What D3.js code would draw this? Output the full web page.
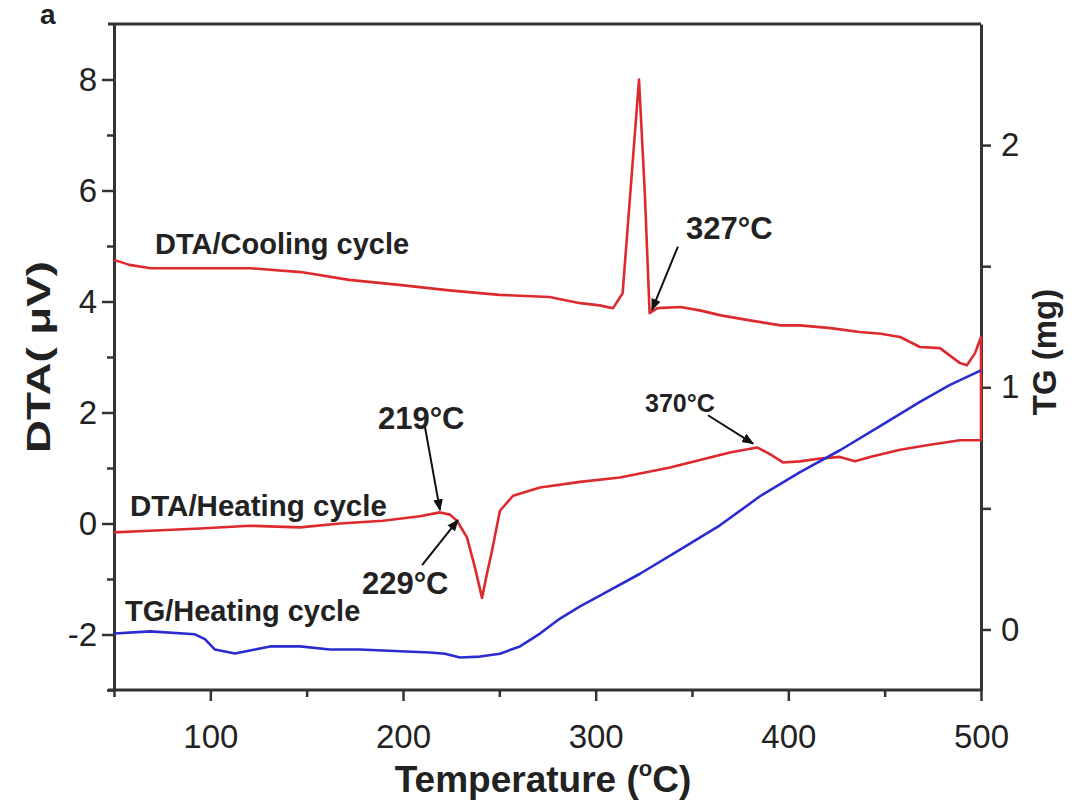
<!DOCTYPE html>
<html><head><meta charset="utf-8">
<script src="https://cdn.jsdelivr.net/npm/d3@7"></script>
<style>
html,body{margin:0;padding:0;background:#fff;}
svg{display:block;font-family:"Liberation Sans",Arial,sans-serif;}
</style></head>
<body>
<svg id="chart" width="1076" height="807"></svg>
<script>
// ---- data ----
const tempHeat = [50,68.7,94.6,120.6,146.5,167.3,189.6,208.8,219.2,224.4,228,233.2,237.4,241,243.6,246.2,250.3,257.1,271.1,291.9,312.6,338.6,369.7,383.7,390.5,397.2,406.1,416.4,426.8,434.6,442.4,458,473.5,489.1,500];
const dtaHeat  = [-0.16,-0.13,-0.09,-0.04,-0.07,0.0,0.05,0.13,0.2,0.16,0.05,-0.25,-0.8,-1.34,-0.9,-0.49,0.23,0.5,0.65,0.75,0.83,1.01,1.28,1.37,1.25,1.1,1.12,1.17,1.2,1.12,1.2,1.33,1.42,1.5,1.5];
const tempCool = [500,496.9,492.7,489.1,478.7,468.3,458,448,437,422,406,396,380,365,354,344,332,328,325.5,322.5,318,314,309,302,292,276,250,224,198,172,147,121,95,69,58,50];
const dtaCool  = [3.36,3.07,2.85,2.89,3.16,3.18,3.36,3.42,3.45,3.52,3.57,3.57,3.66,3.75,3.84,3.9,3.88,3.79,5.96,8.0,5.96,4.15,3.88,3.93,3.97,4.08,4.12,4.2,4.3,4.39,4.53,4.6,4.6,4.6,4.66,4.75];
const tempTG   = [50,68.7,92,97.2,102.4,112.8,123.2,131,146.5,162.1,177.7,198.4,214,221.8,229.6,240,250.3,260.7,271.1,281.5,291.9,302.2,323,343.8,364.5,385.3,406.1,426.8,447.6,468.3,483.9,500];
const tgValues = [-0.017,-0.008,-0.02,-0.04,-0.083,-0.099,-0.083,-0.07,-0.07,-0.083,-0.083,-0.09,-0.095,-0.1,-0.116,-0.112,-0.1,-0.07,-0.017,0.045,0.095,0.14,0.23,0.33,0.43,0.55,0.65,0.74,0.84,0.94,1.01,1.07];

const xTickLabels = [100,200,300,400,500];
const xMinorTicks = [50,150,250,350,450];
const dtaTickLabels = [-2,0,2,4,6,8];
const dtaMinorTicks = [-3,-1,1,3,5,7];
const tgTickLabels = [0,1,2];
const tgMinorTicks = [0.5,1.5];

const annotTexts = ["DTA/Cooling cycle","327°C","DTA/Heating cycle","219°C","229°C","370°C","TG/Heating cycle"];
const annotT     = [71.3,346.9,58.3,187,178.7,325.6,55.7];
const annotV     = [5.05,5.32,0.33,1.90,-1.07,2.17,-1.56];
const annotSize  = [29,31,29.5,31,31,25,29];
const arrowFromT = [342.7,211.4,209.9,358.3];
const arrowFromV = [4.99,1.74,-0.75,1.95];
const arrowToT   = [329.2,219.2,228.5,381.7];
const arrowToV   = [3.85,0.24,0.06,1.44];

// ---- layout ----
const L=114, R=981, T=24, B=690;
const svg = d3.select("#chart");
const x = d3.scaleLinear().domain([50,500]).range([L,R]);
const y = d3.scaleLinear().domain([-3,9]).range([B,T]);
const y2 = d3.scaleLinear().domain([-0.25,2.5]).range([B,T]);

const axisColor="#333", textColor="#222";
const fmt = d => String(d);

// frame
svg.append("line").attr("x1",108).attr("x2",R).attr("y1",T).attr("y2",T).attr("stroke",axisColor).attr("stroke-width",3);

function styleAxis(g){
  g.select(".domain").attr("stroke",axisColor).attr("stroke-width",3);
  g.selectAll(".tick line").attr("stroke",axisColor).attr("stroke-width",2.5);
  g.selectAll(".tick text").attr("fill",textColor).attr("font-size",33).attr("font-family","'Liberation Sans',Arial,sans-serif");
}

// bottom axis
const gx = svg.append("g").attr("transform",`translate(0,${B})`);
gx.call(d3.axisBottom(x).tickValues(xMinorTicks).tickSize(7).tickFormat("").tickSizeOuter(0));
gx.call(g=>g.select(".domain").attr("d",`M${L-6},0H${R}`));
const gx2 = svg.append("g").attr("transform",`translate(0,${B})`);
gx2.call(d3.axisBottom(x).tickValues(xTickLabels).tickSize(11).tickPadding(24).tickFormat(fmt).tickSizeOuter(0));
gx2.select(".domain").remove();
styleAxis(gx); styleAxis(gx2);

// left axis
const gy = svg.append("g").attr("transform",`translate(${L},0)`);
gy.call(d3.axisLeft(y).tickValues(dtaMinorTicks).tickSize(7).tickFormat("").tickSizeOuter(0));
const gy2 = svg.append("g").attr("transform",`translate(${L},0)`);
gy2.call(d3.axisLeft(y).tickValues(dtaTickLabels).tickSize(12).tickPadding(5).tickFormat(fmt).tickSizeOuter(0));
gy2.select(".domain").remove();
styleAxis(gy); styleAxis(gy2);

// right axis
const gr = svg.append("g").attr("transform",`translate(${R},0)`);
gr.call(d3.axisRight(y2).tickValues(tgMinorTicks).tickSize(10).tickFormat("").tickSizeOuter(0));
const gr2 = svg.append("g").attr("transform",`translate(${R},0)`);
gr2.call(d3.axisRight(y2).tickValues(tgTickLabels).tickSize(10).tickPadding(10).tickFormat(fmt).tickSizeOuter(0));
gr2.select(".domain").remove();
styleAxis(gr); styleAxis(gr2);

// axis titles
svg.append("text").attr("transform",`translate(50,357) rotate(-90)`).attr("text-anchor","middle")
  .attr("font-weight","bold").attr("font-size",33).attr("fill",textColor)
  .attr("textLength",192).attr("lengthAdjust","spacingAndGlyphs").text("DTA( μV)");
svg.append("text").attr("transform",`translate(1056,352) rotate(-90)`).attr("text-anchor","middle")
  .attr("font-weight","bold").attr("font-size",33).attr("fill",textColor).text("TG (mg)");
const xt = svg.append("text").attr("x",543).attr("y",792).attr("text-anchor","middle")
  .attr("font-weight","bold").attr("font-size",37).attr("fill",textColor);
xt.append("tspan").text("Temperature (");
xt.append("tspan").attr("font-size",22).attr("dy",-16).text("o");
xt.append("tspan").attr("dy",16).text("C)");

// panel letter
svg.append("text").attr("x",40).attr("y",24).attr("font-weight","bold").attr("font-size",28).attr("fill",textColor).text("a");

// curves
const dtaPts = tempHeat.map((t,i)=>[t,dtaHeat[i]]).concat(tempCool.map((t,i)=>[t,dtaCool[i]]));
const line = d3.line().x(d=>x(d[0])).y(d=>y(d[1]));
svg.append("path").attr("d",line(dtaPts)).attr("fill","none").attr("stroke","#dd2a2e").attr("stroke-width",2.6).attr("stroke-linejoin","round");
const tgPts = tempTG.map((t,i)=>[t,tgValues[i]]);
const line2 = d3.line().x(d=>x(d[0])).y(d=>y2(d[1]));
svg.append("path").attr("d",line2(tgPts)).attr("fill","none").attr("stroke","#2b2bd0").attr("stroke-width",2.6).attr("stroke-linejoin","round");

// annotations
annotTexts.forEach((s,i)=>{
  svg.append("text").attr("x",x(annotT[i])).attr("y",y(annotV[i])).attr("dy","0.36em")
    .attr("font-weight","bold").attr("font-size",annotSize[i])
    .attr("fill",textColor).text(s);
});
svg.append("defs").append("marker").attr("id","ah").attr("viewBox","0 0 10 10").attr("refX",9).attr("refY",5)
  .attr("markerWidth",6).attr("markerHeight",6).attr("orient","auto")
  .append("path").attr("d","M0,1L10,5L0,9Z").attr("fill","#111");
arrowFromT.forEach((t,i)=>{
  svg.append("line").attr("x1",x(t)).attr("y1",y(arrowFromV[i])).attr("x2",x(arrowToT[i])).attr("y2",y(arrowToV[i]))
    .attr("stroke","#111").attr("stroke-width",2).attr("marker-end","url(#ah)");
});
</script>
</body></html>
